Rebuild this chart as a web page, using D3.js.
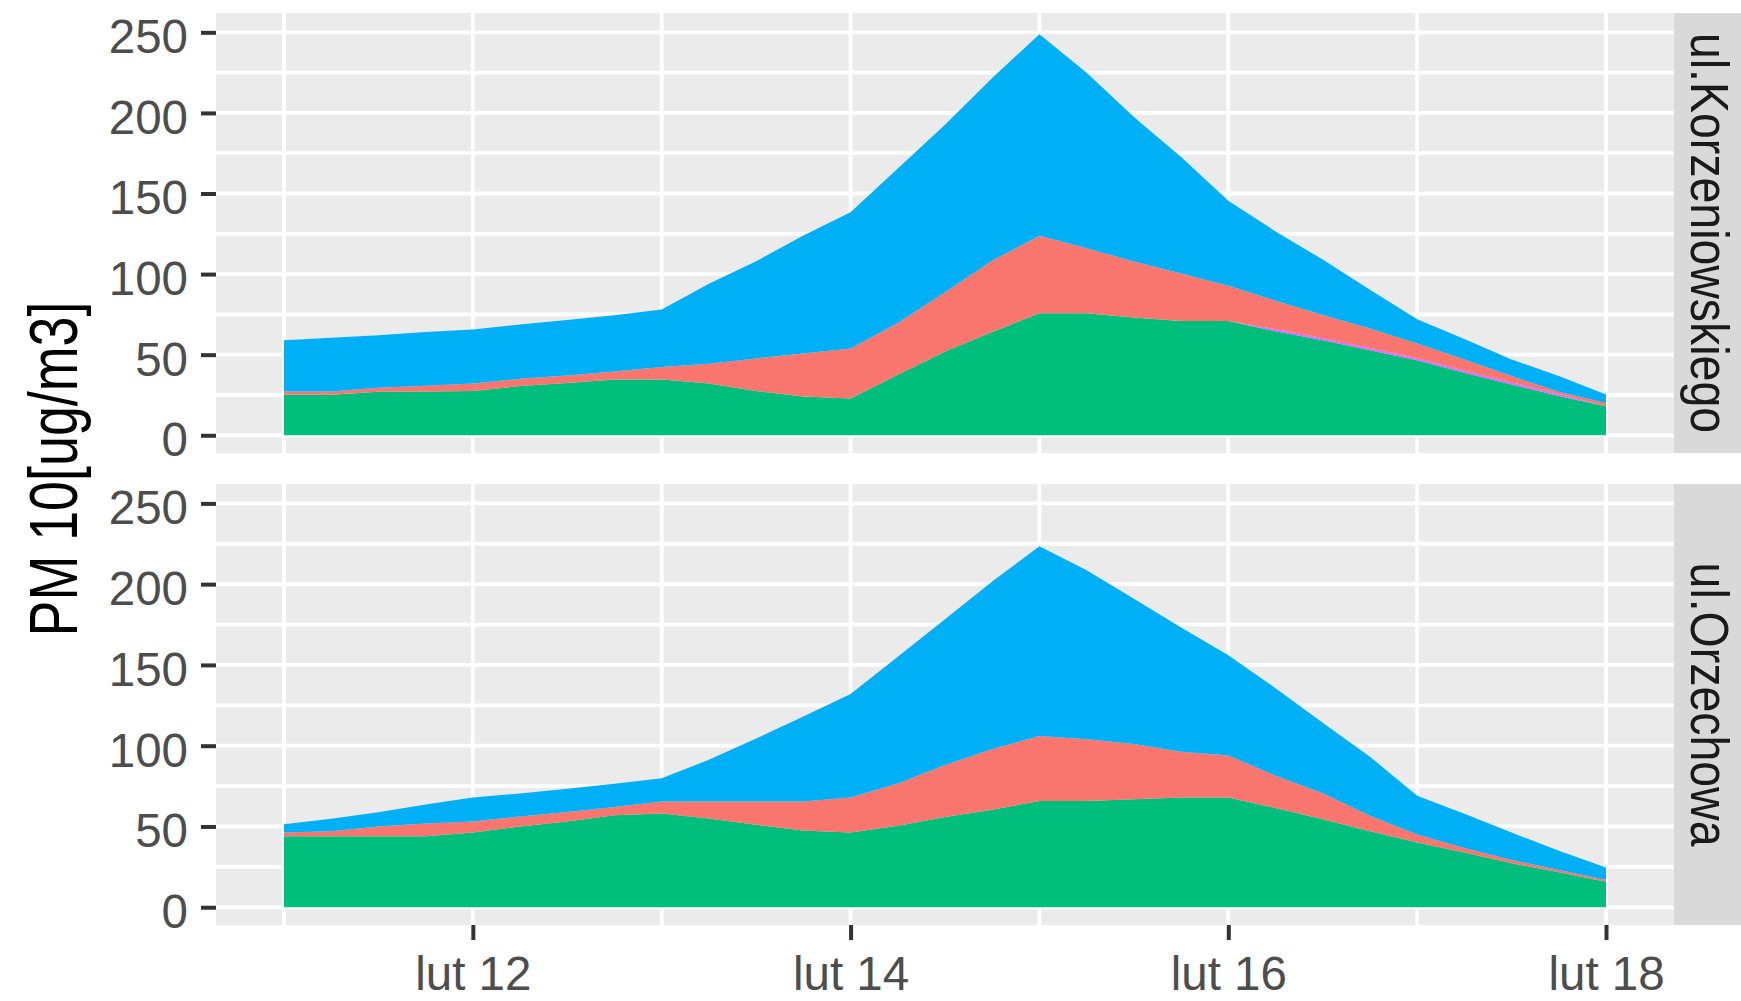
<!DOCTYPE html>
<html>
<head>
<meta charset="utf-8">
<script src="https://cdn.jsdelivr.net/npm/d3@7"></script>
<style>
  body { margin: 0; background: #fff; }
  svg { display: block; font-family: "Liberation Sans", Arial, sans-serif; }
</style>
</head>
<body>
<div id="chart"></div>
<script>
// sample times: day of February (lut), every 6 hours
const days = [11, 11.25, 11.5, 11.75, 12, 12.25, 12.5, 12.75, 13, 13.25, 13.5, 13.75, 14, 14.25, 14.5,
              14.75, 15, 15.25, 15.5, 15.75, 16, 16.25, 16.5, 16.75, 17, 17.25, 17.5, 17.75, 18];

const stations = ["ul.Korzeniowskiego", "ul.Orzechowa"];

// stack order, bottom to top
const sourceKeys = ["s3", "s5", "s1", "s4"];
const sourceColors = ["#00BF7D", "#E76BF3", "#F8766D", "#00B0F6"];

// ul.Korzeniowskiego
const korzS3 = [25.1, 25.1, 27.0, 27.2, 27.5, 30.5, 32.5, 34.6, 34.6, 32.1, 27.4, 24.0, 22.8, 37.5, 52.0,
                64.0, 75.7, 75.7, 73.0, 70.9, 70.9, 64.5, 59.0, 52.8, 46.5, 38.8, 31.5, 24.3, 18.0];
const korzS5 = [0, 0, 0, 0, 0, 0, 0, 0, 0, 0, 0, 0, 0, 0, 0,
                0, 0, 0, 0, 0, 0, 1.4, 1.4, 1.4, 1.4, 1.4, 1.4, 1.4, 0];
const korzS1 = [2.1, 2.1, 2.5, 3.6, 4.6, 4.5, 4.6, 4.9, 7.7, 12.2, 20.3, 26.7, 31.1, 32.1, 36.7,
                44.4, 48.1, 40.3, 34.8, 29.5, 21.8, 17.6, 14.3, 12.0, 9.1, 6.8, 3.8, 1.3, 2.1];
const korzS4 = [31.7, 33.3, 32.5, 33.2, 33.6, 33.7, 34.4, 35.0, 35.7, 49.7, 60.3, 73.3, 84.4, 95.9, 103.9,
                113.3, 125.0, 109.0, 89.7, 72.2, 52.8, 43.0, 34.3, 24.1, 15.0, 12.8, 10.3, 9.8, 5.2];

// ul.Orzechowa
const orzS3 = [43.9, 43.9, 43.9, 43.9, 46.3, 50.0, 53.0, 57.0, 58.0, 55.0, 51.0, 47.5, 46.3, 50.5, 55.8,
               60.4, 65.7, 65.7, 66.8, 68.0, 68.0, 61.4, 54.5, 47.0, 40.0, 33.9, 27.3, 21.6, 15.7];
const orzS5 = [0, 0, 0, 0, 0, 0, 0, 0, 0, 0, 0, 0, 0, 0, 0,
               0, 0, 0, 0, 0, 0, 0, 0, 0, 0, 0, 0, 0, 0];
const orzS1 = [2.4, 3.1, 6.1, 7.9, 6.7, 6.2, 6.0, 5.0, 7.4, 10.4, 14.4, 17.9, 21.7, 26.1, 32.2,
               37.5, 40.3, 38.3, 34.2, 28.3, 26.0, 20.0, 16.0, 9.7, 5.0, 2.8, 2.0, 1.5, 1.3];
const orzS4 = [5.0, 7.8, 8.8, 11.8, 15.0, 14.2, 14.4, 14.4, 14.4, 25.9, 39.0, 52.6, 64.0, 78.4, 90.3,
               103.7, 117.5, 104.6, 90.0, 76.9, 62.0, 54.2, 43.7, 36.5, 24.0, 21.1, 16.9, 11.9, 7.6];

const yMajor = [0, 50, 100, 150, 200, 250];
const yMinor = [25, 75, 125, 175, 225];
const xMajorDays = [12, 14, 16, 18];
const xMinorDays = [11, 13, 15, 17];

const width = 1741, height = 1001;
const panelLeft = 216, panelRight = 1674, stripRight = 1741;
const panels = [{top: 13, bottom: 453}, {top: 484, bottom: 925}];

const base = Date.UTC(2017, 1, 0);
const toDate = d => new Date(base + d * 864e5);

const svg = d3.select("#chart")
    .append("svg")
    .attr("width", width)
    .attr("height", height);

const x = d3.scaleUtc()
    .domain([toDate(11 - 0.36), toDate(18 + 0.36)])
    .range([panelLeft, panelRight]);

const seriesByStation = [
    [korzS3, korzS5, korzS1, korzS4],
    [orzS3, orzS5, orzS1, orzS4]
];

const stack = d3.stack().keys(sourceKeys);

stations.forEach(function(name, i) {
    const p = panels[i];
    const y = d3.scaleLinear()
        .domain([-11, 262])
        .range([p.bottom, p.top]);

    const rows = days.map(function(d, j) {
        const row = {day: d};
        sourceKeys.forEach((k, s) => row[k] = seriesByStation[i][s][j]);
        return row;
    });

    const g = svg.append("g");

    g.append("rect")
        .attr("x", panelLeft)
        .attr("y", p.top)
        .attr("width", panelRight - panelLeft)
        .attr("height", p.bottom - p.top)
        .attr("fill", "#EBEBEB");

    // grid
    g.selectAll(".hgrid")
        .data(yMinor.concat(yMajor))
        .join("line")
        .attr("x1", panelLeft).attr("x2", panelRight)
        .attr("y1", d => y(d)).attr("y2", d => y(d))
        .attr("stroke", "#fff")
        .attr("stroke-width", 3.8);
    g.selectAll(".vgrid")
        .data(xMinorDays.concat(xMajorDays))
        .join("line")
        .attr("x1", d => x(toDate(d))).attr("x2", d => x(toDate(d)))
        .attr("y1", p.top).attr("y2", p.bottom)
        .attr("stroke", "#fff")
        .attr("stroke-width", 3.8);

    const area = d3.area()
        .x(d => x(toDate(d.data.day)))
        .y0(d => y(d[0]))
        .y1(d => y(d[1]));

    g.selectAll(".layer")
        .data(stack(rows))
        .join("path")
        .attr("fill", (d, s) => sourceColors[s])
        .attr("d", area);

    // y axis
    const yAxis = g.append("g")
        .attr("transform", `translate(${panelLeft},0)`)
        .call(d3.axisLeft(y).tickValues(yMajor).tickSize(15).tickPadding(13));
    yAxis.select(".domain").remove();
    yAxis.selectAll(".tick line").attr("stroke", "#333333").attr("stroke-width", 4);
    yAxis.selectAll(".tick text")
        .attr("fill", "#4D4D4D")
        .attr("font-size", 47.5)
        .attr("dy", "0.43em");

    // strip
    g.append("rect")
        .attr("x", panelRight)
        .attr("y", p.top)
        .attr("width", stripRight - panelRight)
        .attr("height", p.bottom - p.top)
        .attr("fill", "#D9D9D9");
    g.append("text")
        .attr("transform", `translate(1691,${(p.top + p.bottom) / 2}) rotate(90) scale(0.86,1)`)
        .attr("text-anchor", "middle")
        .attr("font-size", 54)
        .attr("fill", "#1A1A1A")
        .text(name);
});

// x axis under the bottom panel
const xAxis = svg.append("g")
    .attr("transform", `translate(0,${panels[1].bottom})`)
    .call(d3.axisBottom(x)
        .tickValues(xMajorDays.map(toDate))
        .tickFormat(d => "lut " + d.getUTCDate())
        .tickSize(15)
        .tickPadding(16));
xAxis.select(".domain").remove();
xAxis.selectAll(".tick line").attr("stroke", "#333333").attr("stroke-width", 4);
xAxis.selectAll(".tick text")
    .attr("fill", "#4D4D4D")
    .attr("font-size", 47.5);

svg.append("text")
    .attr("transform", `translate(77,${(panels[0].top + panels[1].bottom) / 2}) rotate(-90)`)
    .attr("text-anchor", "middle")
    .attr("font-size", 68)
    .attr("textLength", 335)
    .attr("lengthAdjust", "spacingAndGlyphs")
    .attr("fill", "#000")
    .text("PM 10[ug/m3]");
</script>
</body>
</html>
